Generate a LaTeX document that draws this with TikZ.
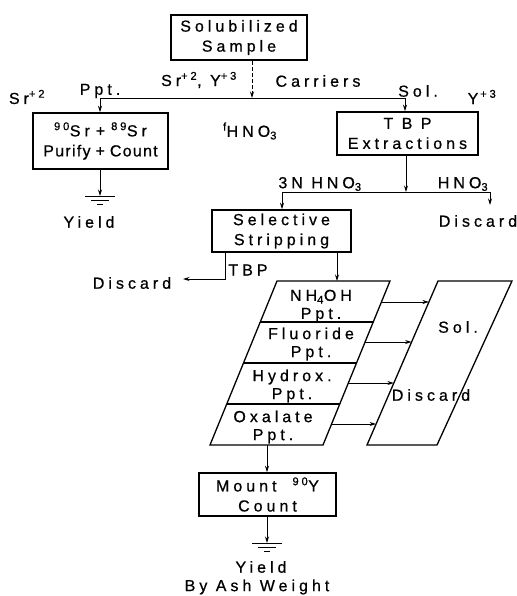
\documentclass[tikz,border=0pt]{standalone}
\usepackage{fontspec}
\setmainfont{Liberation Sans}[LetterSpace=25,FakeBold=0.7]
\usetikzlibrary{arrows.meta,calc}
\newcommand\fs{\fontsize{16}{20}\selectfont}
\begin{document}
\begin{tikzpicture}[x=1pt,y=-1pt,
  box/.style={draw,line width=1.6pt,inner sep=0pt,align=center,font=\fs},
  lbl/.style={inner sep=0pt,align=center,font=\fs},
  slot/.style={inner sep=0pt,align=center,font=\fontsize{16}{18}\selectfont},
  conn/.style={line width=0.8pt},
  arr/.style={conn,-{Stealth[length=6.5pt,width=4pt]}},
  para/.style={line width=1.3pt},
  gnd/.pic={\draw[line width=1pt] (-15,0) -- (15,0) (-9,4) -- (9,4) (-3,8) -- (3,8);}]
\useasboundingbox (0,0) rectangle (516,596);

% top box
\node[box,minimum width=136pt,minimum height=45pt] (sample) at (239,37.5) {Solubilized\\Sample};
\coordinate (j1) at (252,98);
\coordinate (jl) at (100,98);
\coordinate (jr) at (405,98);
\draw[conn,dash pattern=on 4pt off 2pt,-{Stealth[length=6.5pt,width=4pt]}] (sample.south -| j1) -- (j1);
\draw[conn] (jl) -- (jr);

\node[box,minimum width=135pt,minimum height=56pt] (purify) at (100.5,141)
  {\textsuperscript{90}Sr\kern6pt+\kern6pt\textsuperscript{89}Sr\\
   {\addfontfeature{LetterSpace=8}Purify\kern5pt+\kern5pt Count}};
\node[box,minimum width=141pt,minimum height=43pt] (tbp) at (407.5,133.5) {T B P\\Extractions};
\draw[arr] (jl) -- (purify.north -| jl);
\draw[arr] (jr) -- (tbp.north -| jr);

\node[lbl] (sr) at (27,97) {Sr\textsuperscript{+2}};
\node[lbl] (ppt) at (100,91) {Ppt.};
\node[lbl] (carr1) at (199,80) {Sr\textsuperscript{+2}, Y\textsuperscript{+3}};
\node[lbl] (carr2) at (318,81) {Carriers};
\node[lbl] (sol) at (418,91) {Sol.};
\node[lbl] (y3) at (482,97) {Y\textsuperscript{\,+3}};
\node[lbl] (fhno) at (250,131) {\textsuperscript{f}HNO\textsubscript{3}};

% left ground
\coordinate (g1) at (100,196);
\draw[arr] (purify.south -| g1) -- (g1);
\pic at (g1) {gnd};
\node[lbl] (yield1) at (89,222) {Yield};

% TBP split
\coordinate (j2) at (406,192);
\coordinate (j2l) at (282,192);
\coordinate (j2r) at (490,192);
\draw[arr] (tbp.south -| j2) -- (j2);
\draw[conn] (j2l) -- (j2r);
\node[lbl] (hno3a) at (320,184) {3N HNO\textsubscript{3}};
\node[lbl] (hno3b) at (463,184) {HNO\textsubscript{3}};

\node[box,minimum width=139pt,minimum height=42pt] (strip) at (281.5,231) {Selective\\Stripping};
\draw[arr] (j2l) -- (strip.north -| j2l);
\coordinate (d1) at (490,205);
\draw[arr] (j2r) -- (d1);
\node[lbl] (discard1) at (478,221) {Discard};

% TBP discard
\coordinate (t1) at (225,279);
\coordinate (t2) at (183,279);
\draw[arr] (strip.south -| t1) -- (t1) -- (t2);
\node[lbl] (tbplbl) at (248,270) {TBP};
\node[lbl] (discard2) at (132,283) {Discard};

% parallelograms
\coordinate (A) at (277,281);
\coordinate (B) at (390,281);
\coordinate (C) at (323,445);
\coordinate (D) at (210,445);
\coordinate (E) at (438,281);
\coordinate (F) at (512,281);
\coordinate (G) at (437,445);
\coordinate (H) at (367,445);
\coordinate (ptop) at (337,281);
\draw[arr] (strip.south -| ptop) -- (ptop);
\draw[para] (A) -- (B) -- (C) -- (D) -- cycle;
\foreach \f in {0.25,0.5,0.75}
  \draw[para] ($(A)!\f!(D)$) -- ($(B)!\f!(C)$);
\draw[para] (E) -- (F) -- (G) -- (H) -- cycle;
\foreach \f in {0.128,0.372,0.622,0.872}
  \draw[arr] ($(B)!\f!(C)$) -- ($(E)!\f!(H)$);

\node[slot] (s1) at (321,306) {NH\textsubscript{4}OH\\Ppt.};
\node[slot] (s2) at (311,344) {Fluoride\\Ppt.};
\node[slot] (s3) at (292,386) {Hydrox.\\Ppt.};
\node[slot] (s4) at (273,427) {Oxalate\\Ppt.};
\node[lbl] (sol2) at (458,327) {Sol.};
\node[lbl] (discard3) at (431,395) {Discard};

% mount
\coordinate (pb) at (267,445);
\node[box,minimum width=137pt,minimum height=43pt] (mount) at (267.5,494.5) {Mount\quad\textsuperscript{90}Y\\Count};
\draw[arr] (pb) -- (mount.north -| pb);
\coordinate (g2) at (267,543);
\draw[arr] (mount.south -| g2) -- (g2);
\pic at (g2) {gnd};
\node[lbl] (yield2) at (261,567) {Yield};
\node[lbl] (ash) at (257,587) {By Ash Weight};
\end{tikzpicture}
\end{document}
